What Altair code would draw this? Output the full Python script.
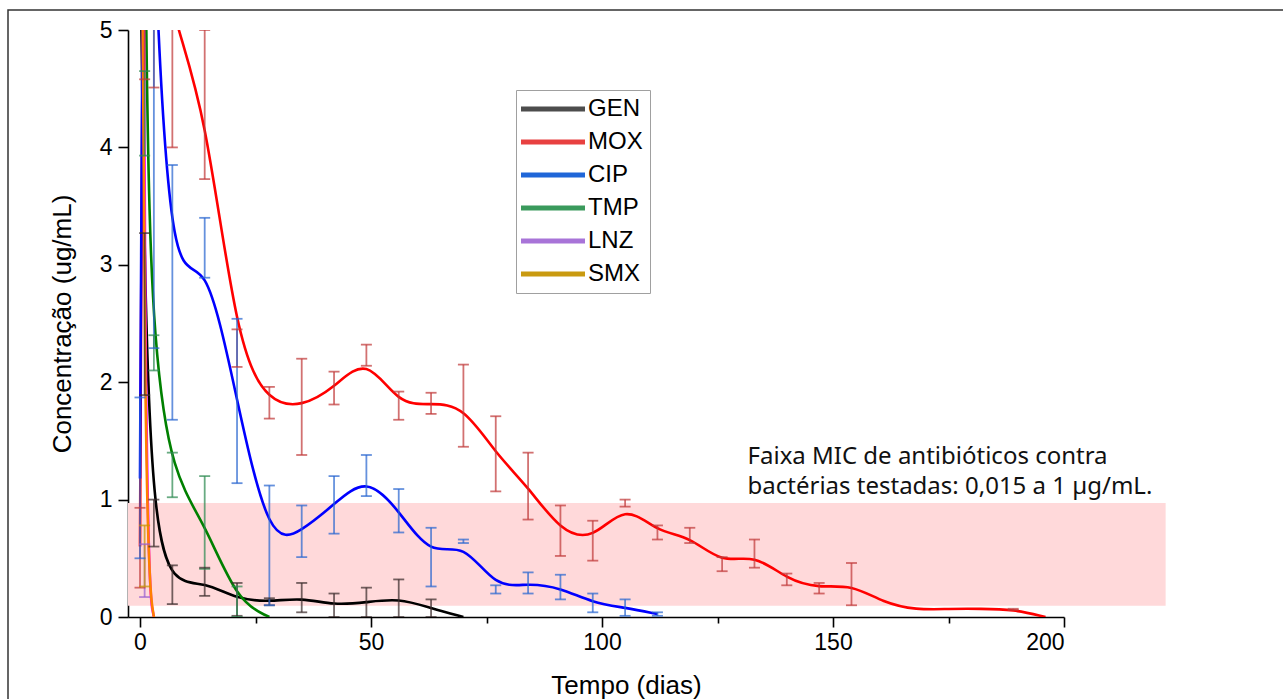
import altair as alt
import pandas as pd

# ---------------- data ----------------
SERIES = ["GEN", "MOX", "CIP", "TMP", "LNZ", "SMX"]
CURVE_COLORS = ["#000000", "#ff0000", "#0000ff", "#008000", "#ff00ff", "#ff8000"]
BAR_COLORS = ["#3c2c2c", "#c03a3a", "#2a66d0", "#2e8a52", "#9a60d0", "#c89400"]
LEGEND_COLORS = ["#4d4d4d", "#e84141", "#1f66d8", "#3a9a5c", "#a874d8", "#c99a10"]

GEN_DAYS = [0, 1, 3, 7, 14, 21, 28, 35, 42, 49, 56, 63, 70]
GEN_MEAN = [6.0, 2.58, 0.80, 0.28, 0.30, 0.15, 0.13, 0.165, 0.10, 0.125, 0.16, 0.075, 0.0]
GEN_LO = [None, 1.89, 0.60, 0.11, 0.18, 0.01, 0.10, 0.04, 0.0, 0.0, 0.0, 0.0, None]
GEN_HI = [None, 3.27, 1.00, 0.44, 0.42, 0.29, 0.16, 0.29, 0.20, 0.25, 0.32, 0.15, None]

MOX_DAYS = [0, 1, 3, 7, 14, 21, 28, 35, 42, 49, 56, 63, 70, 77, 84, 91, 98, 105, 112,
            119, 126, 133, 140, 147, 154, 161, 168, 175, 182, 189, 196]
MOX_MEAN = [0.6, 9.0, 6.0, 5.1, 4.37, 2.29, 1.82, 1.79, 1.95, 2.23, 1.80, 1.82, 1.80, 1.39,
            1.11, 0.73, 0.65, 0.97, 0.72, 0.69, 0.45, 0.54, 0.32, 0.245, 0.28, 0.12, 0.06,
            0.07, 0.07, 0.065, 0.0]
MOX_LO = [0.25, 4.58, 4.51, 4.0, 3.73, 2.13, 1.69, 1.38, 1.81, 2.14, 1.68, 1.73, 1.45, 1.07,
          0.83, 0.52, 0.48, 0.94, 0.66, 0.63, 0.39, 0.42, 0.27, 0.20, 0.10, None, None,
          None, None, 0.06, None]
MOX_HI = [0.93, 13.4, 7.5, 6.2, 5.0, 2.45, 1.96, 2.20, 2.09, 2.32, 1.92, 1.91, 2.15, 1.71,
          1.40, 0.95, 0.82, 1.00, 0.78, 0.76, 0.51, 0.66, 0.37, 0.29, 0.46, None, None,
          None, None, 0.07, None]

CIP_DAYS = [0, 1, 3, 7, 14, 21, 28, 35, 42, 49, 56, 63, 70, 77, 84, 91, 98, 105, 112]
CIP_MEAN = [1.18, 9.0, 5.5, 2.76, 3.15, 1.84, 0.61, 0.73, 0.96, 1.20, 0.91, 0.51, 0.645,
            0.24, 0.29, 0.25, 0.12, 0.08, 0.025]
CIP_LO = [0.50, None, 2.29, 1.68, 2.89, 1.14, 0.10, 0.51, 0.71, 1.03, 0.72, 0.26, 0.63,
          0.20, 0.20, 0.15, 0.04, 0.01, 0.01]
CIP_HI = [1.87, None, 8.7, 3.85, 3.40, 2.54, 1.12, 0.95, 1.20, 1.38, 1.09, 0.76, 0.66,
          0.27, 0.38, 0.36, 0.20, 0.15, 0.04]

TMP_DAYS = [0, 1, 3, 7, 14, 21, 28]
TMP_MEAN = [15.0, 4.3, 2.25, 1.21, 0.80, 0.13, 0.0]
TMP_LO = [None, 3.93, 2.10, 1.02, 0.41, 0.0, None]
TMP_HI = [None, 4.65, 2.40, 1.40, 1.20, 0.26, None]

LNZ_DAYS = [0, 1, 3]
LNZ_MEAN = [14.0, 0.4, 0.0]
LNZ_LO = [None, 0.17, None]
LNZ_HI = [None, 0.62, None]

SMX_DAYS = [0, 1, 3]
SMX_MEAN = [10.0, 0.52, 0.0]
SMX_LO = [None, 0.26, None]
SMX_HI = [None, 0.78, None]

MIC_BAND = {"d0": -2.6, "d1": 222.0, "c0": 0.095, "c1": 0.97}
NOTE_POS = {"d": 131.5, "c": 1.303}
NOTE_LINES = ["Faixa MIC de antibióticos contra", "bactérias testadas: 0,015 a 1 µg/mL."]

X_TICKS = [0, 25, 50, 75, 100, 125, 150, 175, 200]
Y_TICKS = [0, 0.5, 1, 1.5, 2, 2.5, 3, 3.5, 4, 4.5, 5]

# ---------------- tables ----------------
raw = {
    "GEN": (GEN_DAYS, GEN_MEAN, GEN_LO, GEN_HI),
    "MOX": (MOX_DAYS, MOX_MEAN, MOX_LO, MOX_HI),
    "CIP": (CIP_DAYS, CIP_MEAN, CIP_LO, CIP_HI),
    "TMP": (TMP_DAYS, TMP_MEAN, TMP_LO, TMP_HI),
    "LNZ": (LNZ_DAYS, LNZ_MEAN, LNZ_LO, LNZ_HI),
    "SMX": (SMX_DAYS, SMX_MEAN, SMX_LO, SMX_HI),
}
rows = []
for s, (d, m, lo, hi) in raw.items():
    for i in range(len(d)):
        rows.append({"series": s, "day": d[i], "mean": m[i], "lo": lo[i], "hi": hi[i]})
df = pd.DataFrame(rows)
bars = df.dropna(subset=["lo", "hi"]).copy()
caps = bars.melt(id_vars=["series", "day"], value_vars=["lo", "hi"], value_name="cap")

# ---------------- scales / encodings ----------------
xs = alt.Scale(domain=[-2.6, 200], nice=False, zero=False)
ys = alt.Scale(domain=[0, 5], nice=False, zero=False)

x_axis = alt.Axis(
    values=X_TICKS,
    format="d",
    labelExpr="datum.value % 50 === 0 ? datum.label : ''",
    tickSize={"condition": {"test": "datum.value % 50 === 0", "value": 10}, "value": 6},
    labelPadding=4,
    titleX=498, titleY=76, titleAlign="center", titleBaseline="alphabetic",
)
y_axis = alt.Axis(
    values=Y_TICKS,
    format="d",
    labelExpr="datum.value % 1 === 0 ? datum.label : ''",
    tickSize={"condition": {"test": "datum.value % 1 === 0", "value": 10}, "value": 5},
    labelPadding=6,
    titleX=-66, titleY=293.5, titleAngle=270, titleAlign="center", titleBaseline="middle",
)


def X(field):
    return alt.X(field, type="quantitative", scale=xs, axis=x_axis, title="Tempo (dias)")


def Y(field):
    return alt.Y(field, type="quantitative", scale=ys, axis=y_axis, title="Concentração (ug/mL)")


def color(rng, legend=None):
    if legend is None:
        return alt.Color("series:N", scale=alt.Scale(domain=SERIES, range=rng), legend=None)
    return alt.Color("series:N", scale=alt.Scale(domain=SERIES, range=rng), legend=legend)


# ---------------- layers ----------------
band = alt.Chart(pd.DataFrame([MIC_BAND])).mark_rect(color="#ffd9da", clip=False).encode(
    x=X("d0"), x2="d1", y=Y("c0"), y2="c1"
)

note = alt.Chart(pd.DataFrame([NOTE_POS])).mark_text(
    align="left", baseline="alphabetic", font="Noto Sans", fontSize=24,
    lineHeight=30, color="#111111", clip=False
).encode(x=X("d"), y=Y("c"), text=alt.value(NOTE_LINES))

curves = alt.Chart(df).mark_line(interpolate="basis", strokeWidth=2.6, clip=True).encode(
    x=X("day"), y=Y("mean"), color=color(CURVE_COLORS), detail="series:N"
)

rules = alt.Chart(bars).mark_rule(strokeWidth=1.8, opacity=0.72, clip=True).encode(
    x=X("day"), y=Y("lo"), y2="hi", color=color(BAR_COLORS)
)

ticks = alt.Chart(caps).mark_tick(
    orient="horizontal", size=11, thickness=1.8, opacity=0.72, clip=True
).encode(x=X("day"), y=Y("cap"), color=color(BAR_COLORS))

legend = alt.Legend(
    title=None, orient="none", legendX=388, legendY=60,
    symbolType="M-4,0L4,0", symbolSize=256, symbolStrokeWidth=5, symbolOffset=18,
    symbolOpacity=1, labelOffset=23, labelFont="Liberation Sans", labelFontSize=24,
    labelColor="black", rowPadding=9, padding=7, strokeColor="#a0a0a0",
    fillColor="white", cornerRadius=0,
)
legend_layer = alt.Chart(df).mark_line(opacity=0, strokeWidth=0.001).encode(
    x=X("day"), y=Y("mean"), color=color(LEGEND_COLORS, legend)
)

frame = alt.Chart(pd.DataFrame({"k": [0]})).mark_rect(
    fill="transparent", stroke="#333333", strokeWidth=1.5, clip=False
).encode(x=alt.value(-120), x2=alt.value(1170), y=alt.value(-20), y2=alt.value(690))

chart = alt.layer(band, note, curves, rules, ticks, legend_layer, frame).resolve_scale(
    color="independent"
).properties(
    width=936, height=587,
    padding={"left": 128, "top": 30, "right": 219, "bottom": 82},
    autosize=alt.AutoSizeParams(type="none"),
).configure_view(stroke="transparent").configure_axis(
    domainColor="black", domainWidth=1.6, tickColor="black", tickWidth=1.6, grid=False,
    labelFont="Liberation Sans", labelFontSize=23, labelColor="black",
    titleFont="Liberation Sans", titleFontSize=26, titleFontWeight="normal", titleColor="black",
)

chart.save("out.html", embed_options={"renderer": "svg", "actions": False})
